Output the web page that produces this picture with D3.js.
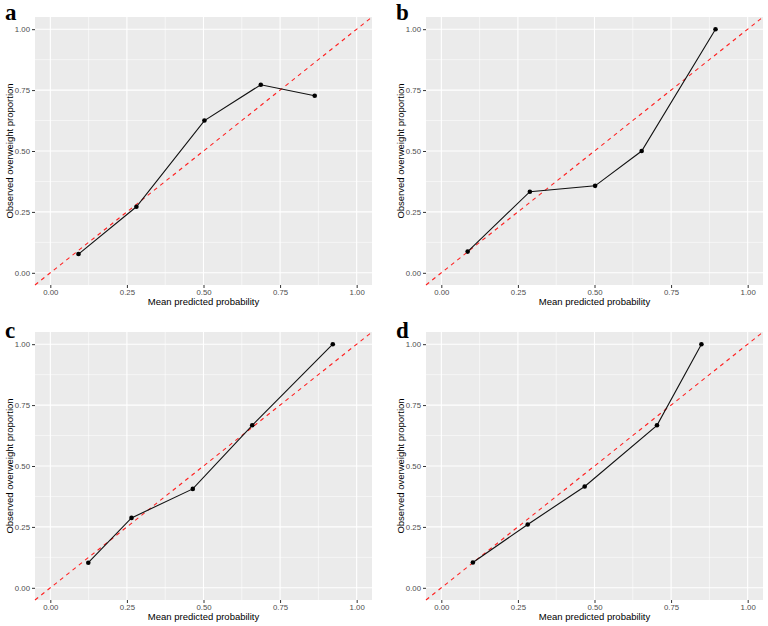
<!DOCTYPE html>
<html>
<head>
<meta charset="utf-8">
<script src="https://cdn.jsdelivr.net/npm/d3@7"></script>
<style>
  body { margin: 0; background: #fff; }
  svg { display: block; font-family: "Liberation Sans", Arial, sans-serif; }
</style>
</head>
<body>
<div id="chart"></div>
<script>
"use strict";

const panelLabels = ["a", "b", "c", "d"];
const tickValues = [0, 0.25, 0.5, 0.75, 1];
const tickLabels = ["0.00", "0.25", "0.50", "0.75", "1.00"];

const predA = [0.092, 0.281, 0.503, 0.687, 0.863];
const obsA = [0.077, 0.271, 0.625, 0.772, 0.727];
const predB = [0.086, 0.289, 0.502, 0.654, 0.895];
const obsB = [0.087, 0.333, 0.357, 0.500, 1.000];
const predC = [0.124, 0.265, 0.465, 0.659, 0.922];
const obsC = [0.103, 0.287, 0.406, 0.667, 1.000];
const predD = [0.103, 0.282, 0.468, 0.704, 0.849];
const obsD = [0.104, 0.260, 0.416, 0.667, 1.000];

const panels = [
  { label: panelLabels[0], x: predA, y: obsA },
  { label: panelLabels[1], x: predB, y: obsB },
  { label: panelLabels[2], x: predC, y: obsC },
  { label: panelLabels[3], x: predD, y: obsD }
];

const width = 768;
const height = 626;
const colOffset = [0, 391];
const rowOffset = [0, 315];
const labelBaseline = [20, 338];
const plotLeft = 35;
const plotTop = 17;
const plotW = 337;
const plotH = 268;

const svg = d3.select("#chart")
  .append("svg")
  .attr("width", width)
  .attr("height", height);

panels.forEach((p, i) => {
  const col = i % 2;
  const row = Math.floor(i / 2);
  const ox = colOffset[col];
  const oy = rowOffset[row];

  const xScale = d3.scaleLinear().domain([-0.05, 1.05]).range([0, plotW]);
  const yScale = d3.scaleLinear().domain([-0.05, 1.05]).range([plotH, 0]);

  const g = svg.append("g")
    .attr("transform", `translate(${ox + plotLeft}, ${oy + plotTop})`);

  g.append("rect")
    .attr("width", plotW)
    .attr("height", plotH)
    .attr("fill", "#EBEBEB");

  const minor = [0.125, 0.375, 0.625, 0.875];

  // minor grid
  g.selectAll(".minor-x")
    .data(minor)
    .enter()
    .append("line")
    .attr("x1", d => xScale(d)).attr("x2", d => xScale(d))
    .attr("y1", 0).attr("y2", plotH)
    .attr("stroke", "#fff").attr("stroke-width", 0.55);
  g.selectAll(".minor-y")
    .data(minor)
    .enter()
    .append("line")
    .attr("y1", d => yScale(d)).attr("y2", d => yScale(d))
    .attr("x1", 0).attr("x2", plotW)
    .attr("stroke", "#fff").attr("stroke-width", 0.55);

  // major grid
  g.selectAll(".major-x")
    .data(tickValues)
    .enter()
    .append("line")
    .attr("x1", d => xScale(d)).attr("x2", d => xScale(d))
    .attr("y1", 0).attr("y2", plotH)
    .attr("stroke", "#fff").attr("stroke-width", 1.1);
  g.selectAll(".major-y")
    .data(tickValues)
    .enter()
    .append("line")
    .attr("y1", d => yScale(d)).attr("y2", d => yScale(d))
    .attr("x1", 0).attr("x2", plotW)
    .attr("stroke", "#fff").attr("stroke-width", 1.1);

  // diagonal reference
  g.append("line")
    .attr("x1", xScale(-0.05)).attr("y1", yScale(-0.05))
    .attr("x2", xScale(1.05)).attr("y2", yScale(1.05))
    .attr("stroke", "#FF2020")
    .attr("stroke-width", 1.1)
    .attr("stroke-dasharray", "4,4");

  const pts = p.x.map((v, k) => [v, p.y[k]]);

  g.append("path")
    .datum(pts)
    .attr("fill", "none")
    .attr("stroke", "#111")
    .attr("stroke-width", 1.1)
    .attr("d", d3.line().x(d => xScale(d[0])).y(d => yScale(d[1])));

  g.selectAll(".pt")
    .data(pts)
    .enter()
    .append("circle")
    .attr("cx", d => xScale(d[0]))
    .attr("cy", d => yScale(d[1]))
    .attr("r", 2.3)
    .attr("fill", "#000");

  // axes
  const xAxis = d3.axisBottom(xScale)
    .tickValues(tickValues)
    .tickFormat((d, k) => tickLabels[k])
    .tickSize(3)
    .tickPadding(1.5);
  const yAxis = d3.axisLeft(yScale)
    .tickValues(tickValues)
    .tickFormat((d, k) => tickLabels[k])
    .tickSize(3)
    .tickPadding(2);

  const gx = g.append("g")
    .attr("transform", `translate(0, ${plotH})`)
    .call(xAxis);
  const gy = g.append("g").call(yAxis);

  [gx, gy].forEach(a => {
    a.select(".domain").remove();
    a.selectAll(".tick line").attr("stroke", "#333");
    a.selectAll(".tick text")
      .attr("fill", "#4D4D4D")
      .style("font-size", "7.8px")
      .style("font-family", "'Liberation Sans', Arial, sans-serif");
  });

  // axis titles
  svg.append("text")
    .attr("x", ox + plotLeft + xScale(0.5))
    .attr("y", oy + 305)
    .attr("text-anchor", "middle")
    .style("font-size", "9.5px")
    .attr("fill", "#000")
    .text("Mean predicted probability");

  svg.append("text")
    .attr("transform", `translate(${ox + 13}, ${oy + plotTop + yScale(0.5)}) rotate(-90)`)
    .attr("text-anchor", "middle")
    .style("font-size", "9.5px")
    .attr("fill", "#000")
    .text("Observed overweight proportion");

  // panel label
  svg.append("text")
    .attr("x", ox + 5)
    .attr("y", labelBaseline[row])
    .style("font-family", "'Liberation Serif', 'Times New Roman', serif")
    .style("font-weight", "bold")
    .style("font-size", "23px")
    .attr("fill", "#000")
    .text(p.label);
});
</script>
</body>
</html>
